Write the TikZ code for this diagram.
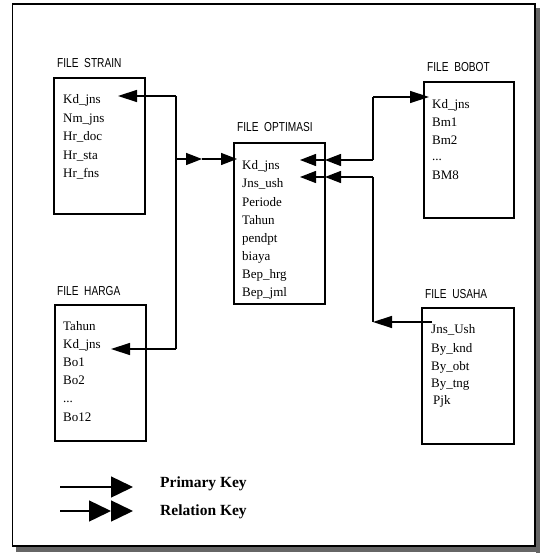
\documentclass[tikz,border=0pt]{standalone}
\usepackage{fontspec}
\setmainfont{Liberation Serif}
\newfontfamily\ttlfont[FakeStretch=0.78]{Liberation Sans}
\usetikzlibrary{arrows.meta}
\tikzset{
  box/.style={draw, line width=1.6pt, anchor=north west, inner sep=0pt},
  item/.style={anchor=base west, inner sep=0pt, font=\fontsize{13}{15}\selectfont},
  ttl/.style={anchor=base west, inner sep=0pt, font=\ttlfont\fontsize{13}{15}\selectfont},
  lgd/.style={anchor=base west, inner sep=0pt, font=\bfseries\fontsize{15.5}{18}\selectfont},
  conn/.style={line width=1.4pt},
  tipS/.style={-{Triangle[length=19pt,width=12pt]}},
  tipD/.style={-{Triangle[length=16pt,width=12pt]}},
  tipL/.style={-{Triangle[length=22pt,width=21pt]}},
}
\begin{document}
\begin{tikzpicture}[x=1pt,y=-1pt]
\useasboundingbox (0,0) rectangle (540,553);
% frame with shadow
\fill[black!60] (535.5,8) rectangle (540,553);
\fill[black!60] (16,546.5) rectangle (540,552);
\draw[line width=1.8pt] (12.5,4) rectangle (535,546);

% boxes
\node[box, minimum width=91pt, minimum height=136pt] (strain) at (53,77) {};
\node[box, minimum width=91pt, minimum height=161pt] (optim) at (233,142) {};
\node[box, minimum width=90pt, minimum height=136pt] (bobot) at (423,81) {};
\node[box, minimum width=91pt, minimum height=136pt] (harga) at (54,304) {};
\node[box, minimum width=92pt, minimum height=136pt] (usaha) at (421,307) {};

% titles
\node[ttl] (tstrain) at (57,68) {FILE\ \ STRAIN};
\node[ttl] (toptim) at (237,132) {FILE\ \ OPTIMASI};
\node[ttl] (tbobot) at (427,72) {FILE\ \ BOBOT};
\node[ttl] (tharga) at (57,295) {FILE\ \ HARGA};
\node[ttl] (tusaha) at (425,298) {FILE\ \ USAHA};

% STRAIN items
\node[item] (s1) at (63,104) {Kd\_jns};
\node[item] (s2) at (63,122.5) {Nm\_jns};
\node[item] (s3) at (63,141) {Hr\_doc};
\node[item] (s4) at (63,159.5) {Hr\_sta};
\node[item] (s5) at (63,178) {Hr\_fns};

% OPTIMASI items
\node[item] (o1) at (242,170) {Kd\_jns};
\node[item] (o2) at (242,188) {Jns\_ush};
\node[item] (o3) at (242,206) {Periode};
\node[item] (o4) at (242,224) {Tahun};
\node[item] (o5) at (242,242) {pendpt};
\node[item] (o6) at (242,260) {biaya};
\node[item] (o7) at (242,278) {Bep\_hrg};
\node[item] (o8) at (242,296) {Bep\_jml};

% BOBOT items
\node[item] (b1) at (432,108.5) {Kd\_jns};
\node[item] (b2) at (432,127) {Bm1};
\node[item] (b3) at (432,144.5) {Bm2};
\node[item] (b4) at (432,161) {...};
\node[item] (b5) at (432,179.5) {BM8};

% HARGA items
\node[item] (h1) at (63,330.5) {Tahun};
\node[item] (h2) at (63,348.5) {Kd\_jns};
\node[item] (h3) at (63,366.5) {Bo1};
\node[item] (h4) at (63,384) {Bo2};
\node[item] (h5) at (63,402) {...};
\node[item] (h6) at (63,421.5) {Bo12};

% USAHA items
\node[item] (u1) at (431,333.5) {Jns\_Ush};
\node[item] (u2) at (431,352.5) {By\_knd};
\node[item] (u3) at (431,370) {By\_obt};
\node[item] (u4) at (431,387.5) {By\_tng};
\node[item] (u5) at (433,404.5) {Pjk};

% left connectors
\coordinate (lj1) at (176,96);
\coordinate (lj2) at (176,159);
\coordinate (lj3) at (176,349);
\coordinate (tS) at (118,96);
\coordinate (tH) at (111,349);
\coordinate (mL) at (202,159);
\coordinate (tO1) at (237,159);
\draw[conn] (lj1) -- (lj3);
\draw[conn,tipS] (lj1) -- (tS);
\draw[conn,tipS] (lj3) -- (tH);
\draw[conn,tipD] (lj2) -- (mL);
\draw[conn,tipD] (mL) -- (tO1);

% right connectors
\coordinate (rj0) at (373,97);
\coordinate (rj1) at (373,160);
\coordinate (rj2) at (373,177);
\coordinate (rj3) at (373,322);
\coordinate (tB) at (429,97);
\coordinate (mR1) at (325,160);
\coordinate (tR1) at (300,160);
\coordinate (mR2) at (325,177);
\coordinate (tR2) at (300,177);
\coordinate (uS) at (432,322);
\draw[conn] (rj1) -- (rj0);
\draw[conn,tipS] (rj0) -- (tB);
\draw[conn,tipD] (rj1) -- (mR1);
\draw[conn,tipD] (mR1) -- (tR1);
\draw[conn] (rj2) -- (rj3);
\draw[conn,tipD] (rj2) -- (mR2);
\draw[conn,tipD] (mR2) -- (tR2);
\draw[conn,tipS] (uS) -- (rj3);

% legend
\coordinate (lp1) at (60,487);
\coordinate (lp2) at (133,487);
\coordinate (lr1) at (60,511);
\coordinate (lrm) at (111,511);
\coordinate (lr2) at (133,511);
\draw[conn,tipL] (lp1) -- (lp2);
\draw[conn,tipL] (lr1) -- (lrm);
\draw[conn,tipL] (lrm) -- (lr2);
\node[lgd] (pk) at (160,487.5) {Primary Key};
\node[lgd] (rk) at (160,515) {Relation Key};
\end{tikzpicture}
\end{document}
